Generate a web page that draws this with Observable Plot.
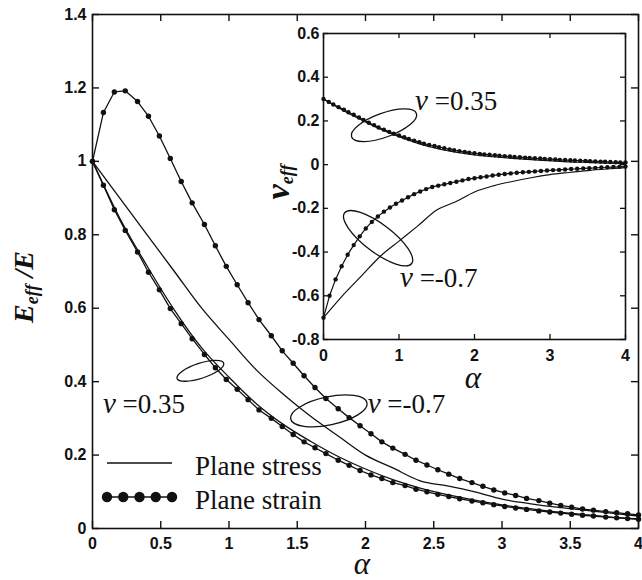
<!DOCTYPE html>
<html><head><meta charset="utf-8">
<script src="https://cdn.jsdelivr.net/npm/d3@7"></script>
<script src="https://cdn.jsdelivr.net/npm/@observablehq/plot@0.6"></script>
<style>
body{margin:0;background:#fff;}
#wrap{position:relative;width:642px;height:580px;overflow:hidden;}
#wrap svg{position:absolute;}
#wrap g[aria-label$="tick label"]{font-weight:700;font-size:16px;font-family:'Liberation Sans',Arial,sans-serif;}
</style></head><body><div id="wrap"></div>
<script>
// ---------- data ----------
// main chart: strain curves sampled at the marker positions
const alphaStrain = [0,0.08,0.16,0.24,0.33,0.41,0.49,0.57,0.65,0.73,0.82,0.90,0.98,1.06,1.14,1.22,1.31,1.39,1.47,1.55,1.63,1.71,1.80,1.88,1.96,2.04,2.12,2.20,2.29,2.37,2.45,2.53,2.61,2.69,2.78,2.86,2.94,3.02,3.10,3.18,3.27,3.35,3.43,3.51,3.59,3.67,3.76,3.84,3.92,4.00];
const strainNeg07 = [1.0,1.133,1.189,1.192,1.163,1.123,1.069,1.008,0.945,0.887,0.828,0.77,0.714,0.664,0.615,0.569,0.525,0.484,0.45,0.416,0.384,0.354,0.326,0.302,0.28,0.258,0.236,0.219,0.202,0.186,0.173,0.16,0.148,0.136,0.125,0.115,0.105,0.097,0.09,0.082,0.076,0.069,0.063,0.058,0.053,0.05,0.046,0.043,0.04,0.037];
const strainPos035 = [1.0,0.935,0.868,0.812,0.753,0.698,0.65,0.599,0.558,0.517,0.474,0.438,0.406,0.379,0.351,0.323,0.3,0.278,0.256,0.236,0.22,0.204,0.186,0.172,0.158,0.146,0.136,0.125,0.117,0.107,0.1,0.093,0.087,0.081,0.075,0.07,0.065,0.06,0.056,0.052,0.048,0.045,0.042,0.039,0.036,0.034,0.031,0.029,0.027,0.025];
// main chart: stress curves (solid lines)
const alphaStress = [0,0.2,0.4,0.6,0.8,1.0,1.2,1.4,1.6,1.8,2.0,2.2,2.4,2.6,2.8,3.0,3.2,3.4,3.6,3.8,4.0];
const stressNeg07 = [1.0,0.9,0.8,0.7,0.6,0.515,0.432,0.365,0.305,0.252,0.2,0.165,0.13,0.116,0.1,0.08,0.068,0.058,0.05,0.042,0.034];
const stressPos035 = [1.0,0.845,0.715,0.595,0.492,0.412,0.34,0.283,0.237,0.196,0.162,0.133,0.11,0.092,0.077,0.064,0.054,0.045,0.038,0.031,0.026];
// inset: Poisson ratio, strain curves at marker positions
const alphaInsetA = [0,0.07,0.13,0.2,0.27,0.33,0.4,0.47,0.53,0.6,0.67,0.73,0.8,0.87,0.93,1,1.07,1.13,1.2,1.27,1.33,1.4,1.47,1.53,1.6,1.67,1.73,1.8,1.87,1.93,2,2.07,2.13,2.2,2.27,2.33,2.4,2.47,2.53,2.6,2.67,2.73,2.8,2.87,2.93,3,3.07,3.13,3.2,3.27,3.33,3.4,3.47,3.53,3.6,3.67,3.73,3.8,3.87,3.93,4];
const insetStrainPos035 = [0.30,0.287,0.275,0.263,0.251,0.24,0.228,0.216,0.204,0.192,0.181,0.17,0.16,0.15,0.141,0.133,0.125,0.117,0.11,0.103,0.096,0.09,0.085,0.08,0.075,0.07,0.066,0.062,0.058,0.055,0.052,0.049,0.047,0.045,0.043,0.041,0.039,0.037,0.035,0.034,0.032,0.031,0.029,0.028,0.026,0.025,0.024,0.022,0.021,0.02,0.019,0.018,0.017,0.016,0.015,0.014,0.013,0.012,0.011,0.01,0.01];
const alphaInsetB = [0,0.08,0.16,0.24,0.32,0.4,0.48,0.56,0.64,0.72,0.8,0.88,0.96,1.04,1.12,1.2,1.28,1.36,1.44,1.52,1.6,1.68,1.76,1.84,1.92,2,2.08,2.16,2.24,2.32,2.4,2.48,2.56,2.64,2.72,2.8,2.88,2.96,3.04,3.12,3.2,3.28,3.36,3.44,3.52,3.6,3.68,3.76,3.84,3.92,4];
const insetStrainNeg07 = [-0.7,-0.60,-0.525,-0.465,-0.412,-0.368,-0.328,-0.292,-0.262,-0.237,-0.215,-0.196,-0.179,-0.164,-0.149,-0.135,-0.123,-0.112,-0.102,-0.096,-0.09,-0.084,-0.078,-0.072,-0.066,-0.062,-0.058,-0.054,-0.05,-0.046,-0.043,-0.04,-0.037,-0.035,-0.033,-0.031,-0.029,-0.027,-0.025,-0.024,-0.022,-0.02,-0.019,-0.017,-0.016,-0.015,-0.013,-0.012,-0.011,-0.01,-0.009];
// inset: stress curves (solid lines)
const alphaInsetStress = [0,0.25,0.5,0.75,1,1.25,1.5,1.75,2,2.25,2.5,2.75,3,3.25,3.5,3.75,4];
const insetStressPos035 = [0.3,0.25,0.205,0.163,0.128,0.097,0.074,0.057,0.044,0.036,0.029,0.023,0.018,0.013,0.01,0.007,0.005];
const insetStressNeg07 = [-0.7,-0.6,-0.51,-0.42,-0.35,-0.28,-0.208,-0.17,-0.125,-0.097,-0.077,-0.06,-0.046,-0.036,-0.027,-0.02,-0.014];
// ticks
const mainXTicks = [0,0.5,1,1.5,2,2.5,3,3.5,4];
const mainYTicks = [0,0.2,0.4,0.6,0.8,1,1.2,1.4];
const insetXTicks = [0,1,2,3,4];
const insetYTicks = [-0.8,-0.6,-0.4,-0.2,0,0.2,0.4,0.6];
// annotations
const mainEllipses = [{a:0.794, v:0.428, rx:24.5, ry:7.5, rot:-18},{a:1.735, v:0.319, rx:39, ry:14, rot:-12}];
const insetEllipses = [{a:0.808, v:0.178, rx:34.5, ry:12, rot:-20},{a:0.73, v:-0.339, rx:42, ry:14, rot:37}];
const mainLabels = [{a:0.08, v:0.313, text:"0.35"},{a:2.02, v:0.313, text:"-0.7"}];
const insetLabels = [{a:1.22, v:0.247, text:"0.35"},{a:1.02, v:-0.563, text:"-0.7"}];

// ---------- tables ----------
const mainStrain = alphaStrain.flatMap((a,i)=>[{a, v:strainNeg07[i], nu:"-0.7"},{a, v:strainPos035[i], nu:"0.35"}]);
const mainStress = alphaStress.flatMap((a,i)=>[{a, v:stressNeg07[i], nu:"-0.7"},{a, v:stressPos035[i], nu:"0.35"}]);
const inStrain = [...alphaInsetA.map((a,i)=>({a, v:insetStrainPos035[i], nu:"0.35"})), ...alphaInsetB.map((a,i)=>({a, v:insetStrainNeg07[i], nu:"-0.7"}))];
const inStress = alphaInsetStress.flatMap((a,i)=>[{a, v:insetStressPos035[i], nu:"0.35"},{a, v:insetStressNeg07[i], nu:"-0.7"}]);

const INK = "#111";
const SANS = "'Liberation Sans', Arial, sans-serif";
const SERIF = "'Liberation Serif', 'Times New Roman', serif";
const fmt = d => String(d);

// main chart geometry
const mW = 642, mH = 580, mL = 92, mR = 4, mT = 14, mB = 52;
const tMX = 4 * 7 / (mW - mL - mR), tMY = 1.4 * 7 / (mH - mT - mB);
const main = Plot.plot({
  width: mW, height: mH, marginLeft: mL, marginRight: mR, marginTop: mT, marginBottom: mB,
  x: {domain: [0, 4]}, y: {domain: [0, 1.4]},
  style: {fontFamily: SANS, fontSize: "16px", fontWeight: "bold", color: INK, background: "white", overflow: "visible"},
  marks: [
    Plot.axisX(mainXTicks, {anchor: "bottom", tickSize: 0, tickPadding: 9, label: null, tickFormat: fmt, fontWeight: "bold", fontSize: 16}),
    Plot.axisY(mainYTicks, {anchor: "left", tickSize: 0, tickPadding: 6, label: null, tickFormat: fmt, fontWeight: "bold", fontSize: 16}),
    Plot.ruleX(mainXTicks, {x: d => d, y1: () => 0, y2: () => tMY, stroke: INK, strokeWidth: 1.4}),
    Plot.ruleX(mainXTicks, {x: d => d, y1: () => 1.4, y2: () => 1.4 - tMY, stroke: INK, strokeWidth: 1.4}),
    Plot.ruleY(mainYTicks, {y: d => d, x1: () => 0, x2: () => tMX, stroke: INK, strokeWidth: 1.4}),
    Plot.ruleY(mainYTicks, {y: d => d, x1: () => 4, x2: () => 4 - tMX, stroke: INK, strokeWidth: 1.4}),
    Plot.line(mainStress, {x: "a", y: "v", z: "nu", stroke: INK, strokeWidth: 1.3, curve: "monotone-x"}),
    Plot.line(mainStrain, {x: "a", y: "v", z: "nu", stroke: INK, strokeWidth: 1.3}),
    Plot.dot(mainStrain, {x: "a", y: "v", r: 2.7, fill: INK, stroke: "none"}),
    Plot.frame({stroke: INK, strokeWidth: 1.6})
  ]
});

// inset geometry
const iLeft = 263, iTop = 23;
const iW = 370, iH = 366, iL = 60, iR = 8, iT = 10, iB = 50;
const tIX = 4 * 5 / (iW - iL - iR), tIY = 1.4 * 5 / (iH - iT - iB);
const inset = Plot.plot({
  width: iW, height: iH, marginLeft: iL, marginRight: iR, marginTop: iT, marginBottom: iB,
  x: {domain: [0, 4]}, y: {domain: [-0.8, 0.6]},
  style: {fontFamily: SANS, fontSize: "16px", fontWeight: "bold", color: INK, background: "transparent", overflow: "visible"},
  marks: [
    Plot.frame({fill: "white", stroke: "none"}),
    Plot.axisX(insetXTicks, {anchor: "bottom", tickSize: 0, tickPadding: 10, label: null, tickFormat: fmt, fontWeight: "bold", fontSize: 16}),
    Plot.axisY(insetYTicks, {anchor: "left", tickSize: 0, tickPadding: 4, label: null, tickFormat: fmt, fontWeight: "bold", fontSize: 16}),
    Plot.ruleX(insetXTicks, {x: d => d, y1: () => -0.8, y2: () => -0.8 + tIY, stroke: INK, strokeWidth: 1.3}),
    Plot.ruleX(insetXTicks, {x: d => d, y1: () => 0.6, y2: () => 0.6 - tIY, stroke: INK, strokeWidth: 1.3}),
    Plot.ruleY(insetYTicks, {y: d => d, x1: () => 0, x2: () => tIX, stroke: INK, strokeWidth: 1.3}),
    Plot.ruleY(insetYTicks, {y: d => d, x1: () => 4, x2: () => 4 - tIX, stroke: INK, strokeWidth: 1.3}),
    Plot.line(inStress, {x: "a", y: "v", z: "nu", stroke: INK, strokeWidth: 1.2, curve: "monotone-x"}),
    Plot.line(inStrain, {x: "a", y: "v", z: "nu", stroke: INK, strokeWidth: 1.2}),
    Plot.dot(inStrain, {x: "a", y: "v", r: 2.2, fill: INK, stroke: "none"}),
    Plot.frame({stroke: INK, strokeWidth: 1.6})
  ]
});

const wrap = document.getElementById("wrap");
main.style.left = "0px"; main.style.top = "0px";
inset.style.left = iLeft + "px"; inset.style.top = iTop + "px";
wrap.appendChild(main);
wrap.appendChild(inset);

function annotate(svg, ellipses, labels) {
  const sx = svg.scale("x"), sy = svg.scale("y");
  const g = d3.select(svg).append("g").attr("text-anchor", "start");
  for (const e of ellipses) {
    g.append("ellipse").attr("rx", e.rx).attr("ry", e.ry)
      .attr("transform", `translate(${sx.apply(e.a)},${sy.apply(e.v)}) rotate(${e.rot})`)
      .attr("fill", "none").attr("stroke", INK).attr("stroke-width", 1.3);
  }
  for (const l of labels) {
    const t = g.append("text").attr("x", sx.apply(l.a)).attr("y", sy.apply(l.v)).attr("text-anchor", "start")
      .attr("font-family", SERIF).attr("font-size", 27).attr("font-weight", "normal").attr("fill", INK);
    t.append("tspan").attr("font-style", "italic").attr("font-size", 29).text("ν");
    t.append("tspan").text(" =" + l.text);
  }
  return g;
}
const gm = annotate(main, mainEllipses, mainLabels);
const gi = annotate(inset, insetEllipses, insetLabels);

// axis titles
gm.append("text").attr("x", 362).attr("y", 574).attr("text-anchor", "middle")
  .attr("font-family", SERIF).attr("font-style", "italic").attr("font-weight", "normal").attr("font-size", 31).attr("fill", INK).text("α");
gi.append("text").attr("x", 473 - iLeft).attr("y", 388 - iTop).attr("text-anchor", "middle")
  .attr("font-family", SERIF).attr("font-style", "italic").attr("font-weight", "normal").attr("font-size", 31).attr("fill", INK).text("α");

const yl = gm.append("text").attr("transform", "translate(33,287) rotate(-90)").attr("text-anchor", "middle")
  .attr("font-family", SERIF).attr("font-style", "italic").attr("font-weight", "bold").attr("font-size", 28).attr("fill", INK);
yl.append("tspan").text("E");
yl.append("tspan").attr("font-size", 18).attr("dy", 5).text("eff");
yl.append("tspan").attr("dy", -5).text(" /E");

const yi = gi.append("text").attr("transform", `translate(${289 - iLeft},${182 - iTop}) rotate(-90)`).attr("text-anchor", "middle")
  .attr("font-family", SERIF).attr("font-style", "italic").attr("font-weight", "bold").attr("font-size", 34).attr("fill", INK);
yi.append("tspan").text("ν");
yi.append("tspan").attr("font-size", 18).attr("dy", 4).text("eff");

// legend
const lg = gm.append("g").attr("fill", INK).attr("text-anchor", "start");
lg.append("line").attr("x1", 107).attr("x2", 172).attr("y1", 463).attr("y2", 463).attr("stroke", INK).attr("stroke-width", 1.3);
lg.append("line").attr("x1", 107).attr("x2", 172).attr("y1", 497).attr("y2", 497).attr("stroke", INK).attr("stroke-width", 1.3);
[107, 123.25, 139.5, 155.75, 172].forEach(cx => lg.append("circle").attr("cx", cx).attr("cy", 497).attr("r", 5.2));
lg.append("text").attr("x", 195).attr("y", 475).attr("font-family", SERIF).attr("font-weight", "normal").attr("font-size", 27).text("Plane stress");
lg.append("text").attr("x", 195).attr("y", 509).attr("font-family", SERIF).attr("font-weight", "normal").attr("font-size", 27).text("Plane strain");
</script></body></html>
